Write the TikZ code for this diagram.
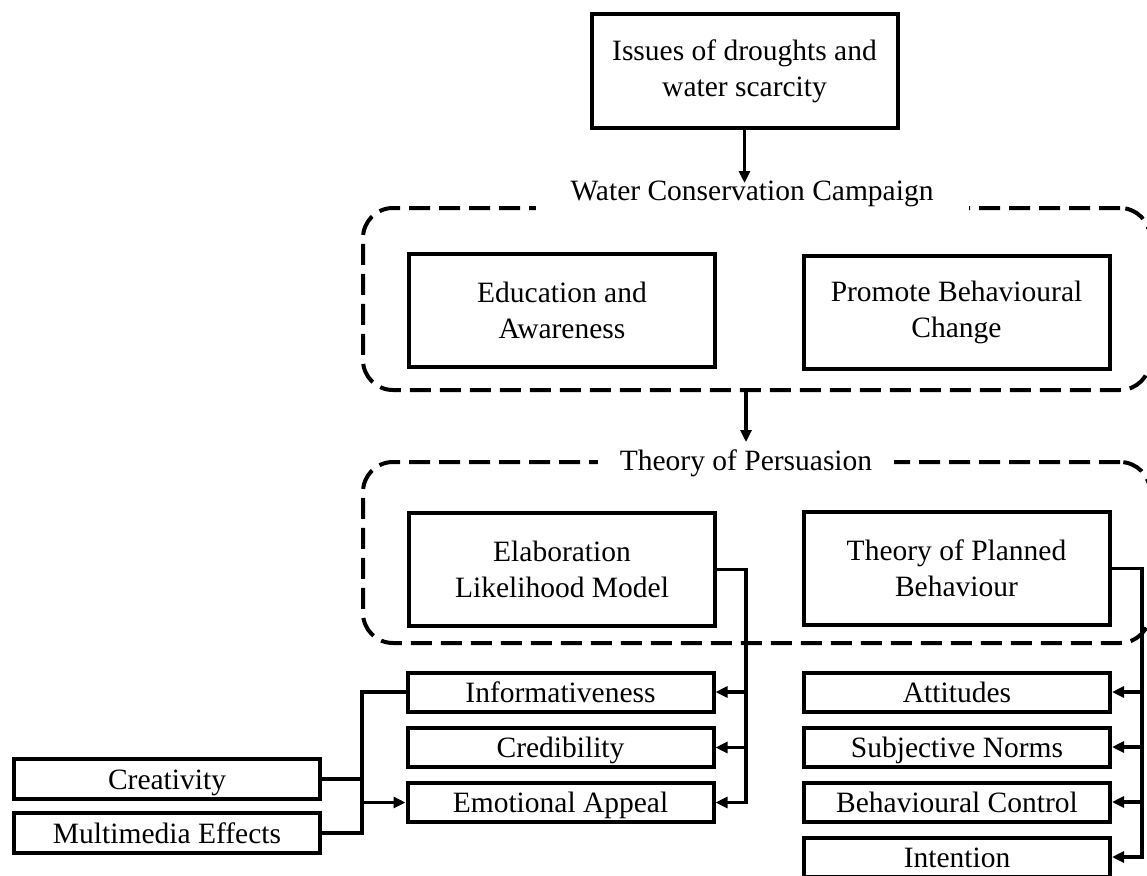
\documentclass[tikz,border=0pt]{standalone}
\usepackage{fontspec}
\setmainfont{Liberation Serif}
\usetikzlibrary{arrows.meta}
\begin{document}
\begin{tikzpicture}[x=1pt,y=-1pt,
  box/.style={draw, line width=4pt, minimum width=306pt, align=center, inner sep=0pt},
  bigbox/.style={box, minimum height=113pt},
  smallbox/.style={box, minimum height=39pt, text height=24pt, text depth=4pt},
  group/.style={draw, line width=4pt, dash pattern=on 21pt off 9pt, rounded corners=30pt,
                minimum width=787pt, inner sep=0pt},
  grouplabel/.style={fill=white},
  conn/.style={line width=3.3pt},
  arr/.style={conn, -{Triangle[length=12pt,width=11pt]}},
  font=\fontsize{29.5}{36}\selectfont]
\useasboundingbox (0,0) rectangle (1147,875);
\clip (0,0) rectangle (1147,875);

% dashed groups and their titles
\node[group, minimum height=182pt] (wcc) at (756.5,299) {};
\node[group, minimum height=181pt] (tp) at (756.5,552.5) {};
\node[grouplabel, inner xsep=35pt, inner ysep=6pt, anchor=base] (wccl) at (752,200) {Water Conservation Campaign};
\node[grouplabel, inner xsep=22pt, inner ysep=0pt, anchor=base] (tpl) at (746,470) {Theory of Persuasion};

% main boxes
\node[bigbox] (top) at (744.5,71) {Issues of droughts and\\water scarcity};
\node[bigbox] (edu) at (562,310.5) {Education and\\Awareness};
\node[bigbox] (prom) at (956.5,312) {Promote Behavioural\\Change};
\node[bigbox] (elm) at (562,569.5) {Elaboration\\Likelihood Model};
\node[bigbox] (tpb) at (956.5,568.5) {Theory of Planned\\Behaviour};

% ELM components
\node[smallbox] (inf) at (560.5,692) {Informativeness};
\node[smallbox] (cred) at (560.5,747.5) {Credibility};
\node[smallbox] (emo) at (560.5,802.5) {Emotional Appeal};

% TPB components
\node[smallbox] (att) at (957,692) {Attitudes};
\node[smallbox] (subj) at (957,747) {Subjective Norms};
\node[smallbox] (beh) at (957,802) {Behavioural Control};
\node[smallbox] (int) at (957,857) {Intention};

% emotional appeal drivers
\node[smallbox, minimum height=40pt] (crea) at (167,779) {Creativity};
\node[smallbox, minimum height=40pt] (mult) at (167,833) {Multimedia Effects};

% bus lines
\coordinate (eb) at (746,0);
\coordinate (tb) at (1142,0);
\coordinate (lb) at (362,0);

% flow between stages
\draw[arr, shorten >=17pt] (top.south) -- (top.south |- wccl.base);
\draw[arr, shorten >=7pt] (tpl.north |- wcc.south) -- (tpl.north);

% ELM fan-out
\draw[arr] (elm.east) -| (eb |- emo.east) -- (emo.east);
\draw[arr] (eb |- inf.east) -- (inf.east);
\draw[arr] (eb |- cred.east) -- (cred.east);

% TPB fan-out
\draw[arr] (tpb.east) -| (tb |- int.east) -- (int.east);
\draw[arr] (tb |- att.east) -- (att.east);
\draw[arr] (tb |- subj.east) -- (subj.east);
\draw[arr] (tb |- beh.east) -- (beh.east);

% drivers into emotional appeal
\draw[conn] (inf.west) -| (lb |- mult.east) -- (mult.east);
\draw[conn] (crea.east) -- (lb |- crea.east);
\draw[arr] (lb |- emo.west) -- (emo.west);
\end{tikzpicture}
\end{document}
